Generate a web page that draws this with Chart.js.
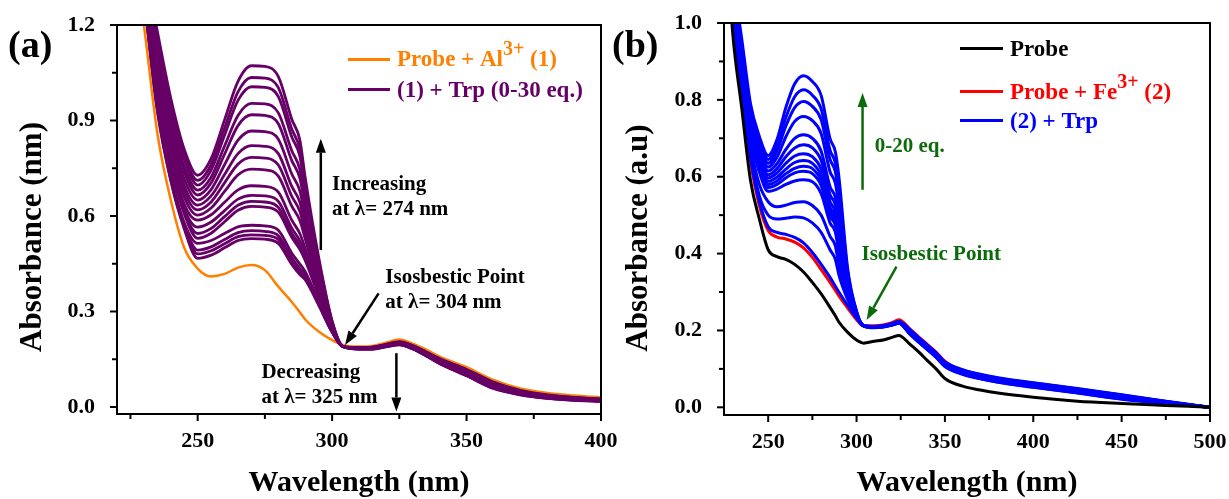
<!DOCTYPE html>
<html><head><meta charset="utf-8">
<script src="https://cdn.jsdelivr.net/npm/chart.js@4.4.0/dist/chart.umd.min.js"></script>
<style>
html,body{margin:0;padding:0;background:#fff;width:1229px;height:499px;overflow:hidden;position:relative}
canvas{position:absolute;top:0}
#ca{left:0}
#cb{left:600px}
</style></head><body>
<canvas id="ca" width="640" height="499"></canvas>
<canvas id="cb" width="629" height="499"></canvas>
<script>
// ---------------- Panel (a) data ----------------
const wavelengthsA = [225,230,235,240,245,250,255,260,265,270,275,280,285,288,290,295,300,304,310,315,320,325,330,335,340,350,360,370,380,390,400];
const probeAl = [1.50,1.20,0.86,0.65,0.50,0.435,0.41,0.418,0.438,0.446,0.43,0.378,0.33,0.298,0.275,0.237,0.21,0.195,0.19,0.192,0.202,0.212,0.199,0.18,0.158,0.125,0.085,0.058,0.044,0.036,0.030];
const trpA01 = [1.70,1.40,1.18,0.97,0.81,0.728,0.780,0.902,1.023,1.072,1.070,1.038,0.904,0.839,0.72,0.47,0.27,0.19,0.182,0.182,0.189,0.195,0.182,0.160,0.136,0.098,0.058,0.038,0.027,0.021,0.018];
const trpA02 = [1.69,1.39,1.16,0.95,0.79,0.712,0.761,0.876,0.990,1.035,1.033,1.003,0.873,0.810,0.698,0.46,0.268,0.19,0.182,0.182,0.190,0.196,0.183,0.161,0.137,0.099,0.059,0.039,0.028,0.022,0.018];
const trpA03 = [1.68,1.385,1.15,0.94,0.78,0.697,0.744,0.854,0.963,1.006,1.004,0.975,0.848,0.788,0.681,0.452,0.266,0.19,0.183,0.183,0.190,0.196,0.183,0.162,0.138,0.100,0.061,0.040,0.028,0.022,0.019];
const trpA04 = [1.67,1.374,1.126,0.914,0.756,0.681,0.722,0.820,0.916,0.954,0.952,0.924,0.805,0.747,0.651,0.437,0.262,0.19,0.183,0.183,0.191,0.197,0.184,0.162,0.139,0.102,0.062,0.041,0.029,0.023,0.019];
const trpA05 = [1.66,1.366,1.109,0.896,0.739,0.666,0.704,0.794,0.884,0.918,0.916,0.890,0.774,0.719,0.629,0.427,0.260,0.19,0.183,0.184,0.191,0.198,0.185,0.163,0.140,0.103,0.063,0.041,0.030,0.023,0.020];
const trpA06 = [1.64,1.355,1.086,0.872,0.716,0.650,0.683,0.761,0.838,0.867,0.865,0.841,0.732,0.679,0.599,0.413,0.257,0.19,0.184,0.184,0.192,0.198,0.185,0.164,0.141,0.104,0.064,0.042,0.030,0.024,0.020];
const trpA07 = [1.63,1.345,1.065,0.85,0.695,0.634,0.663,0.730,0.796,0.821,0.819,0.796,0.693,0.644,0.572,0.401,0.254,0.19,0.184,0.184,0.192,0.199,0.186,0.165,0.142,0.105,0.066,0.043,0.031,0.024,0.021];
const trpA08 = [1.62,1.336,1.048,0.832,0.678,0.619,0.644,0.704,0.763,0.784,0.782,0.760,0.662,0.615,0.550,0.391,0.251,0.19,0.184,0.185,0.192,0.199,0.187,0.166,0.143,0.107,0.067,0.044,0.032,0.025,0.021];
const trpA09 = [1.61,1.328,1.03,0.814,0.66,0.603,0.625,0.677,0.729,0.747,0.745,0.725,0.631,0.586,0.528,0.38,0.249,0.19,0.185,0.185,0.193,0.200,0.187,0.166,0.144,0.108,0.068,0.045,0.032,0.025,0.021];
const trpA10 = [1.596,1.317,1.007,0.79,0.637,0.587,0.604,0.643,0.682,0.695,0.693,0.675,0.587,0.545,0.498,0.366,0.246,0.19,0.185,0.185,0.193,0.201,0.188,0.167,0.145,0.109,0.069,0.046,0.033,0.026,0.022];
const trpA11 = [1.588,1.31,0.993,0.775,0.623,0.565,0.581,0.617,0.653,0.665,0.663,0.646,0.562,0.522,0.48,0.358,0.244,0.19,0.185,0.186,0.194,0.201,0.189,0.168,0.146,0.110,0.071,0.046,0.034,0.026,0.022];
const trpA12 = [1.582,1.306,0.984,0.766,0.614,0.545,0.561,0.598,0.634,0.646,0.644,0.627,0.546,0.507,0.469,0.352,0.243,0.19,0.186,0.186,0.194,0.202,0.190,0.169,0.147,0.112,0.072,0.047,0.034,0.027,0.023];
const trpA13 = [1.578,1.302,0.977,0.758,0.607,0.530,0.546,0.582,0.618,0.630,0.628,0.612,0.533,0.495,0.46,0.348,0.242,0.19,0.186,0.187,0.195,0.202,0.190,0.170,0.148,0.113,0.073,0.048,0.035,0.027,0.023];
const trpA14 = [1.562,1.289,0.949,0.73,0.579,0.514,0.523,0.545,0.566,0.571,0.569,0.555,0.483,0.449,0.425,0.332,0.238,0.19,0.186,0.187,0.195,0.203,0.191,0.170,0.149,0.114,0.074,0.049,0.036,0.028,0.024];
const trpA15 = [1.557,1.286,0.942,0.722,0.572,0.493,0.503,0.526,0.548,0.554,0.552,0.538,0.469,0.435,0.415,0.327,0.237,0.19,0.187,0.187,0.196,0.204,0.192,0.171,0.150,0.115,0.076,0.050,0.036,0.029,0.024];
const trpA16 = [1.553,1.283,0.936,0.716,0.566,0.481,0.491,0.513,0.535,0.541,0.539,0.526,0.458,0.425,0.407,0.323,0.236,0.19,0.187,0.188,0.196,0.204,0.192,0.172,0.151,0.117,0.077,0.051,0.037,0.029,0.025];
const trpA17 = [1.55,1.28,0.93,0.71,0.56,0.467,0.477,0.50,0.523,0.529,0.527,0.514,0.448,0.416,0.40,0.32,0.235,0.19,0.187,0.188,0.197,0.205,0.193,0.173,0.152,0.118,0.078,0.052,0.038,0.030,0.025];
const trpSeriesA = [trpA01,trpA02,trpA03,trpA04,trpA05,trpA06,trpA07,trpA08,trpA09,trpA10,trpA11,trpA12,trpA13,trpA14,trpA15,trpA16,trpA17];

// ---------------- Panel (b) data ----------------
const wavelengthsB = [225,230,235,240,245,250,255,260,265,270,275,280,285,288,290,295,300,304,310,315,320,324,330,335,340,345,350,360,370,380,400,425,450,475,500];
const probe = [1.30,0.97,0.78,0.59,0.49,0.41,0.392,0.385,0.372,0.352,0.325,0.295,0.26,0.238,0.222,0.195,0.175,0.167,0.172,0.175,0.182,0.187,0.165,0.145,0.122,0.100,0.075,0.055,0.045,0.037,0.026,0.016,0.010,0.005,0.0];
const probeFe = [1.40,1.05,0.82,0.64,0.525,0.46,0.443,0.438,0.43,0.415,0.39,0.358,0.325,0.304,0.29,0.258,0.228,0.212,0.212,0.214,0.22,0.228,0.205,0.184,0.164,0.144,0.12,0.095,0.082,0.072,0.058,0.043,0.026,0.012,0.0];
const trpB01 = [1.30,1.12,0.96,0.79,0.705,0.655,0.697,0.780,0.842,0.863,0.848,0.811,0.699,0.665,0.60,0.36,0.25,0.212,0.210,0.212,0.218,0.223,0.203,0.182,0.162,0.142,0.118,0.098,0.086,0.077,0.064,0.049,0.033,0.016,0];
const trpB02 = [1.295,1.109,0.947,0.777,0.695,0.645,0.681,0.754,0.808,0.826,0.812,0.776,0.669,0.636,0.573,0.351,0.248,0.212,0.210,0.212,0.217,0.222,0.202,0.181,0.161,0.141,0.117,0.097,0.085,0.076,0.063,0.048,0.032,0.015,0];
const trpB03 = [1.29,1.10,0.937,0.767,0.685,0.635,0.667,0.732,0.780,0.796,0.783,0.748,0.645,0.613,0.551,0.345,0.247,0.212,0.209,0.211,0.217,0.222,0.201,0.180,0.160,0.140,0.116,0.096,0.084,0.075,0.062,0.047,0.031,0.015,0];
const trpB04 = [1.287,1.089,0.924,0.754,0.675,0.625,0.651,0.704,0.744,0.757,0.746,0.712,0.613,0.583,0.523,0.336,0.245,0.212,0.209,0.211,0.217,0.222,0.200,0.179,0.159,0.139,0.115,0.095,0.083,0.074,0.061,0.046,0.030,0.014,0];
const trpB05 = [1.281,1.075,0.908,0.738,0.665,0.615,0.634,0.671,0.700,0.709,0.700,0.666,0.574,0.546,0.488,0.325,0.243,0.212,0.209,0.211,0.216,0.221,0.199,0.178,0.158,0.138,0.114,0.094,0.082,0.073,0.060,0.045,0.029,0.014,0];
const trpB06 = [1.278,1.068,0.899,0.729,0.655,0.605,0.621,0.652,0.675,0.683,0.675,0.642,0.553,0.526,0.469,0.319,0.242,0.212,0.209,0.211,0.216,0.221,0.198,0.177,0.157,0.137,0.113,0.093,0.081,0.072,0.059,0.044,0.028,0.013,0];
const trpB07 = [1.275,1.061,0.891,0.721,0.647,0.597,0.610,0.635,0.654,0.660,0.652,0.620,0.535,0.508,0.452,0.313,0.241,0.212,0.209,0.211,0.216,0.221,0.197,0.176,0.156,0.136,0.112,0.092,0.080,0.071,0.058,0.043,0.027,0.013,0];
const trpB08 = [1.273,1.056,0.885,0.715,0.638,0.588,0.599,0.620,0.637,0.642,0.635,0.603,0.520,0.494,0.440,0.309,0.240,0.212,0.209,0.210,0.216,0.220,0.197,0.175,0.155,0.135,0.111,0.091,0.079,0.070,0.057,0.043,0.027,0.013,0];
const trpB09 = [1.271,1.051,0.880,0.710,0.630,0.580,0.589,0.608,0.622,0.627,0.621,0.589,0.508,0.483,0.429,0.306,0.240,0.212,0.208,0.210,0.215,0.220,0.196,0.175,0.155,0.135,0.111,0.091,0.079,0.070,0.057,0.042,0.026,0.012,0];
const trpB10 = [1.27,1.048,0.876,0.706,0.622,0.572,0.580,0.597,0.610,0.614,0.608,0.577,0.497,0.473,0.419,0.303,0.239,0.212,0.208,0.210,0.215,0.220,0.195,0.174,0.154,0.134,0.110,0.090,0.078,0.069,0.056,0.041,0.025,0.012,0];
const trpB11 = [1.267,1.041,0.868,0.698,0.612,0.562,0.568,0.580,0.589,0.592,0.587,0.556,0.480,0.456,0.403,0.298,0.238,0.212,0.208,0.210,0.215,0.220,0.194,0.173,0.153,0.133,0.109,0.089,0.077,0.068,0.055,0.040,0.024,0.011,0];
const trpB12 = [1.26,1.025,0.85,0.68,0.58,0.535,0.522,0.526,0.533,0.535,0.525,0.50,0.445,0.42,0.37,0.29,0.236,0.212,0.208,0.210,0.215,0.219,0.193,0.172,0.152,0.132,0.108,0.088,0.076,0.067,0.054,0.039,0.023,0.011,0];
const trpB13 = [1.255,1.012,0.835,0.665,0.55,0.50,0.49,0.492,0.495,0.493,0.48,0.455,0.41,0.385,0.345,0.28,0.234,0.212,0.208,0.209,0.214,0.219,0.192,0.171,0.151,0.131,0.107,0.087,0.075,0.066,0.053,0.038,0.022,0.010,0];
const trpB14 = [1.25,1.0,0.82,0.65,0.535,0.47,0.455,0.45,0.442,0.428,0.403,0.372,0.338,0.315,0.30,0.265,0.232,0.212,0.207,0.209,0.214,0.219,0.191,0.170,0.150,0.130,0.106,0.086,0.074,0.065,0.052,0.037,0.021,0.010,0];
const trpSeriesB = [trpB01,trpB02,trpB03,trpB04,trpB05,trpB06,trpB07,trpB08,trpB09,trpB10,trpB11,trpB12,trpB13,trpB14];

// ---------------- Tick values ----------------
const xLabelTicksA = [250,300,350,400];
const xMinorTicksA = [225,250,275,300,325,350,375,400];
const yLabelTicksA = [0,0.3,0.6,0.9,1.2];
const yMinorTicksA = [0,0.15,0.3,0.45,0.6,0.75,0.9,1.05,1.2];
const xLabelTicksB = [250,300,350,400,450,500];
const xMinorTicksB = [250,275,300,325,350,375,400,425,450,475,500];
const yLabelTicksB = [0,0.2,0.4,0.6,0.8,1.0];
const yMinorTicksB = [0,0.1,0.2,0.3,0.4,0.5,0.6,0.7,0.8,0.9,1.0];

// ---------------- Styling ----------------
const FAM = "'Liberation Serif','Times New Roman',serif";
const F = px => `bold ${px}px ${FAM}`;
const ORANGE = '#ff7f00', PURPLE = '#660066', BLUE = '#0000ff', RED = '#ff0000', GREEN = '#0b6b0b';

function toXY(xs, ys){ return xs.map((x,i)=>({x:x, y:ys[i]})); }

function arrow(ctx, x1, y1, x2, y2, color, lw, hl, hw){
  const a = Math.atan2(y2-y1, x2-x1);
  const bx = x2 - hl*Math.cos(a), by = y2 - hl*Math.sin(a);
  ctx.strokeStyle = color; ctx.fillStyle = color; ctx.lineWidth = lw;
  ctx.beginPath(); ctx.moveTo(x1,y1); ctx.lineTo(bx,by); ctx.stroke();
  ctx.beginPath(); ctx.moveTo(x2,y2);
  ctx.lineTo(bx + hw/2*Math.sin(a), by - hw/2*Math.cos(a));
  ctx.lineTo(bx - hw/2*Math.sin(a), by + hw/2*Math.cos(a));
  ctx.closePath(); ctx.fill();
}
function rich(ctx, parts, x, y, color){
  ctx.fillStyle = color; ctx.textAlign = 'left'; ctx.textBaseline = 'alphabetic';
  let cx = x;
  for (const p of parts){
    ctx.font = F(p.size);
    ctx.fillText(p.t, cx, y + (p.dy||0));
    cx += ctx.measureText(p.t).width;
  }
}

function panelPlugin(cfg){
  return {
    id: 'panel'+cfg.name,
    afterDatasetsDraw(chart){
      const {ctx, chartArea:{left,right,top,bottom}, scales:{x,y}} = chart;
      ctx.save();
      ctx.strokeStyle = '#000'; ctx.lineWidth = 2;
      ctx.strokeRect(left, top, right-left, bottom-top);
      ctx.lineWidth = 2;
      for (const v of cfg.xMinor){
        const px = x.getPixelForValue(v);
        const len = cfg.xMajor.includes(v) ? 7 : 5;
        ctx.beginPath(); ctx.moveTo(px, bottom); ctx.lineTo(px, bottom+len); ctx.stroke();
      }
      for (const v of cfg.yMinor){
        const py = y.getPixelForValue(v);
        const len = cfg.yMajor.includes(v) ? 7 : 5;
        ctx.beginPath(); ctx.moveTo(left, py); ctx.lineTo(left-len, py); ctx.stroke();
      }
      ctx.fillStyle = '#000';
      ctx.font = F(30); ctx.textAlign = 'center'; ctx.textBaseline = 'alphabetic';
      ctx.fillText('Wavelength (nm)', (left+right)/2, 491);
      ctx.save();
      ctx.translate(cfg.yTitleX, cfg.yTitleY); ctx.rotate(-Math.PI/2);
      ctx.font = F(31); ctx.textBaseline = 'middle';
      ctx.fillText(cfg.yTitle, 0, 0);
      ctx.restore();
      ctx.font = F(38); ctx.textAlign = 'left'; ctx.textBaseline = 'alphabetic'; ctx.fillStyle = '#000';
      ctx.fillText(cfg.label, cfg.labelX, 57);
      for (const item of cfg.legend){
        ctx.strokeStyle = item.color; ctx.lineWidth = 3;
        ctx.beginPath(); ctx.moveTo(item.x1, item.ly); ctx.lineTo(item.x2, item.ly); ctx.stroke();
        rich(ctx, item.parts, item.tx, item.ty, item.color);
      }
      for (const a of cfg.arrows){
        arrow(ctx, x.getPixelForValue(a[0]), y.getPixelForValue(a[1]), x.getPixelForValue(a[2]), y.getPixelForValue(a[3]), a[4], 2.5, 14, 10);
      }
      for (const t of cfg.texts){
        ctx.font = F(21); ctx.fillStyle = t[3]; ctx.textAlign = 'left'; ctx.textBaseline = 'alphabetic';
        ctx.fillText(t[0], x.getPixelForValue(t[1]), y.getPixelForValue(t[2]));
      }
      ctx.restore();
    }
  };
}

function makeChart(canvasId, datasets, xr, yr, xLabels, yLabels, L, T, R, H, plugin){
  const tickFont = {family: FAM, size: 22, weight: 'bold'};
  return new Chart(document.getElementById(canvasId), {
    type: 'line',
    data: {datasets},
    options: {
      responsive: false, animation: false, devicePixelRatio: 1,
      layout: {padding: {left: 0, right: R, top: T, bottom: 0}},
      plugins: {legend: {display: false}, tooltip: {enabled: false}},
      elements: {point: {radius: 0}, line: {cubicInterpolationMode: 'monotone'}},
      scales: {
        x: {type: 'linear', min: xr[0], max: xr[1],
            border: {display: false}, grid: {display: false},
            afterBuildTicks: s => { s.ticks = xLabels.map(v => ({value: v})); },
            ticks: {font: tickFont, color: '#000', padding: 6, maxRotation: 0, autoSkip: false, callback: v => String(v)},
            afterFit: s => { s.height = H; s.paddingLeft = 0; s.paddingRight = 0; }},
        y: {type: 'linear', min: yr[0], max: yr[1],
            border: {display: false}, grid: {display: false},
            afterBuildTicks: s => { s.ticks = yLabels.map(v => ({value: v})); },
            ticks: {font: tickFont, color: '#000', padding: 14, autoSkip: false, callback: v => Number(v).toFixed(1)},
            afterFit: s => { s.width = L; s.paddingTop = 0; s.paddingBottom = 0; }}
      }
    },
    plugins: [plugin]
  });
}

// ---------- chart (a) ----------
const dsA = trpSeriesA.map(s => ({data: toXY(wavelengthsA, s), borderColor: PURPLE, borderWidth: 2.8, order: 0}));
dsA.push({data: toXY(wavelengthsA, probeAl), borderColor: ORANGE, borderWidth: 2.5, order: 1});
makeChart('ca', dsA, [220, 400], [-0.022, 1.2], xLabelTicksA, yLabelTicksA, 117, 25, 39, 85,
  panelPlugin({name: 'A', xMinor: xMinorTicksA, xMajor: xLabelTicksA, yMinor: yMinorTicksA, yMajor: yLabelTicksA,
    yTitle: 'Absorbance (nm)', yTitleX: 33, yTitleY: 237, label: '(a)', labelX: 8,
    legend: [
      {color: ORANGE, x1: 348, x2: 390, ly: 59.5, tx: 397, ty: 66,
       parts: [{t: 'Probe + Al', size: 23}, {t: '3+', size: 20, dy: -11}, {t: ' (1)', size: 23}]},
      {color: PURPLE, x1: 348, x2: 390, ly: 89.5, tx: 397, ty: 97,
       parts: [{t: '(1) + Trp (0-30 eq.)', size: 23}]}
    ],
    arrows: [[295.8, 0.493, 295.8, 0.843, '#000'], [317.3, 0.357, 304.8, 0.195, '#000'], [323.9, 0.169, 323.9, -0.014, '#000']],
    texts: [['Increasing', 300, 0.681, '#000'], ['at λ= 274 nm', 300, 0.603, '#000'],
            ['Isosbestic Point', 319.8, 0.39, '#000'], ['at λ= 304 nm', 319.8, 0.311, '#000'],
            ['Decreasing', 273.7, 0.092, '#000'], ['at λ= 325 nm', 273.7, 0.0135, '#000']]
  }));

// ---------- chart (b) ----------
const dsB = [{data: toXY(wavelengthsB, probe), borderColor: '#000', borderWidth: 3, order: 0}];
dsB.push({data: toXY(wavelengthsB, probeFe), borderColor: RED, borderWidth: 3, order: 2});
trpSeriesB.forEach(s => dsB.push({data: toXY(wavelengthsB, s), borderColor: BLUE, borderWidth: 3, order: 1}));
makeChart('cb', dsB, [225, 500], [-0.02, 1.0], xLabelTicksB, yLabelTicksB, 124, 23, 19, 84,
  panelPlugin({name: 'B', xMinor: xMinorTicksB, xMajor: xLabelTicksB, yMinor: yMinorTicksB, yMajor: yLabelTicksB,
    yTitle: 'Absorbance (a.u)', yTitleX: 39, yTitleY: 238, label: '(b)', labelX: 12,
    legend: [
      {color: '#000', x1: 360, x2: 403, ly: 48.5, tx: 410, ty: 56, parts: [{t: 'Probe', size: 23}]},
      {color: RED, x1: 360, x2: 403, ly: 91.5, tx: 410, ty: 99,
       parts: [{t: 'Probe + Fe', size: 23}, {t: '3+', size: 20, dy: -11}, {t: ' (2)', size: 23}]},
      {color: BLUE, x1: 360, x2: 403, ly: 120.5, tx: 410, ty: 128, parts: [{t: '(2) + Trp', size: 23}]}
    ],
    arrows: [[303.4, 0.566, 303.4, 0.818, GREEN], [322.6, 0.366, 305.7, 0.227, GREEN]],
    texts: [['0-20 eq.', 310.3, 0.665, GREEN], ['Isosbestic Point', 302.8, 0.384, GREEN]]
  }));
</script>
</body></html>
